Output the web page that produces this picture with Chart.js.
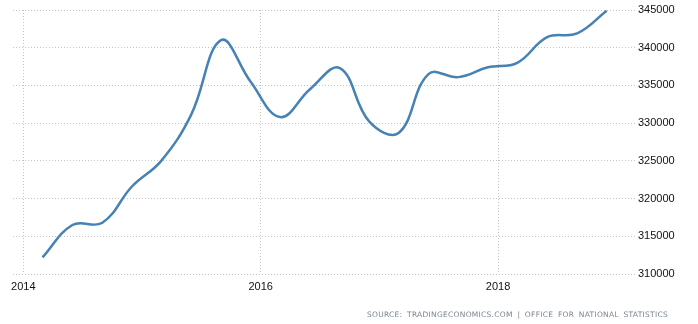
<!DOCTYPE html>
<html>
<head>
<meta charset="utf-8">
<script src="https://cdn.jsdelivr.net/npm/chart.js@4"></script>
<style>
  body { margin: 0; background: #fff; }
  #wrap { position: relative; width: 698px; height: 324px; }
  #myChart { display: block; width: 698px; height: 324px; }
  #source {
    position: absolute; right: 30px; top: 310px;
    font: 7.5px "DejaVu Sans", sans-serif; color: #7b8591;
    letter-spacing: 0.28px; word-spacing: 2px; white-space: nowrap;
  }
</style>
</head>
<body>
<div id="wrap">
  <canvas id="myChart" width="698" height="324"></canvas>
  <div id="source">SOURCE: TRADINGECONOMICS.COM | OFFICE FOR NATIONAL STATISTICS</div>
</div>
<script>
//~==== data ====~//
const dates = [
  "2014-03", "2014-06", "2014-09", "2014-12",
  "2015-03", "2015-06", "2015-09", "2015-12",
  "2016-03", "2016-06", "2016-09", "2016-12",
  "2017-03", "2017-06", "2017-09", "2017-12",
  "2018-03", "2018-06", "2018-09", "2018-12"
];
const employment = [
  312200, 316500, 316800, 321600,
  325000, 331100, 341000, 335500,
  330800, 334500, 337300, 330200,
  328700, 336500, 336100, 337400,
  338000, 341400, 341900, 344900
];
const xTicks = [2014, 2016, 2018];
const yTicks = [310000, 315000, 320000, 325000, 330000, 335000, 340000, 345000];

// "2015-06" -> decimal year
function toYear(d) {
  const [y, m] = d.split("-").map(Number);
  const start = Date.UTC(y, 0, 1);
  return y + (Date.UTC(y, m - 1, 1) - start) / (Date.UTC(y + 1, 0, 1) - start);
}

const points = dates.map((d, i) => ({ x: toYear(d), y: employment[i] }));

const gridColor = "#c4c4c4";
const tickFont = { family: "'Liberation Sans', Arial, sans-serif", size: 11 };

//!==== chart ====!//
const ctx = document.getElementById("myChart");
new Chart(ctx, {
  type: "line",
  data: {
    datasets: [
      {
        data: points,
        borderColor: "#4682b4",
        borderWidth: 2.5,
        pointRadius: 0,
        tension: 0.4,
        fill: false,
      },
    ],
  },
  options: {
    responsive: false,
    animation: false,
    layout: { padding: { left: 13, top: 10, right: 0, bottom: 0 } },
    plugins: { legend: { display: false }, tooltip: { enabled: false } },
    scales: {
      x: {
        type: "linear",
        min: 2013.913,
        max: 2019.162,
        afterBuildTicks: (s) => { s.ticks = xTicks.map((v) => ({ value: v })); },
        afterFit: (s) => { s.height = 50; },
        grid: { color: gridColor, drawTicks: false },
        border: { display: false, dash: [1, 2] },
        ticks: { padding: 6, color: "#111", font: tickFont, maxRotation: 0, callback: (v) => String(v) },
      },
      y: {
        position: "right",
        min: 310000,
        max: 345000,
        afterBuildTicks: (s) => { s.ticks = yTicks.map((v) => ({ value: v })); },
        afterFit: (s) => { s.width = 62; },
        grid: { color: gridColor, drawTicks: false },
        border: { display: false, dash: [1, 2] },
        ticks: { padding: 2, color: "#111", font: tickFont, callback: (v) => String(v) },
      },
    },
  },
});
</script>
</body>
</html>
